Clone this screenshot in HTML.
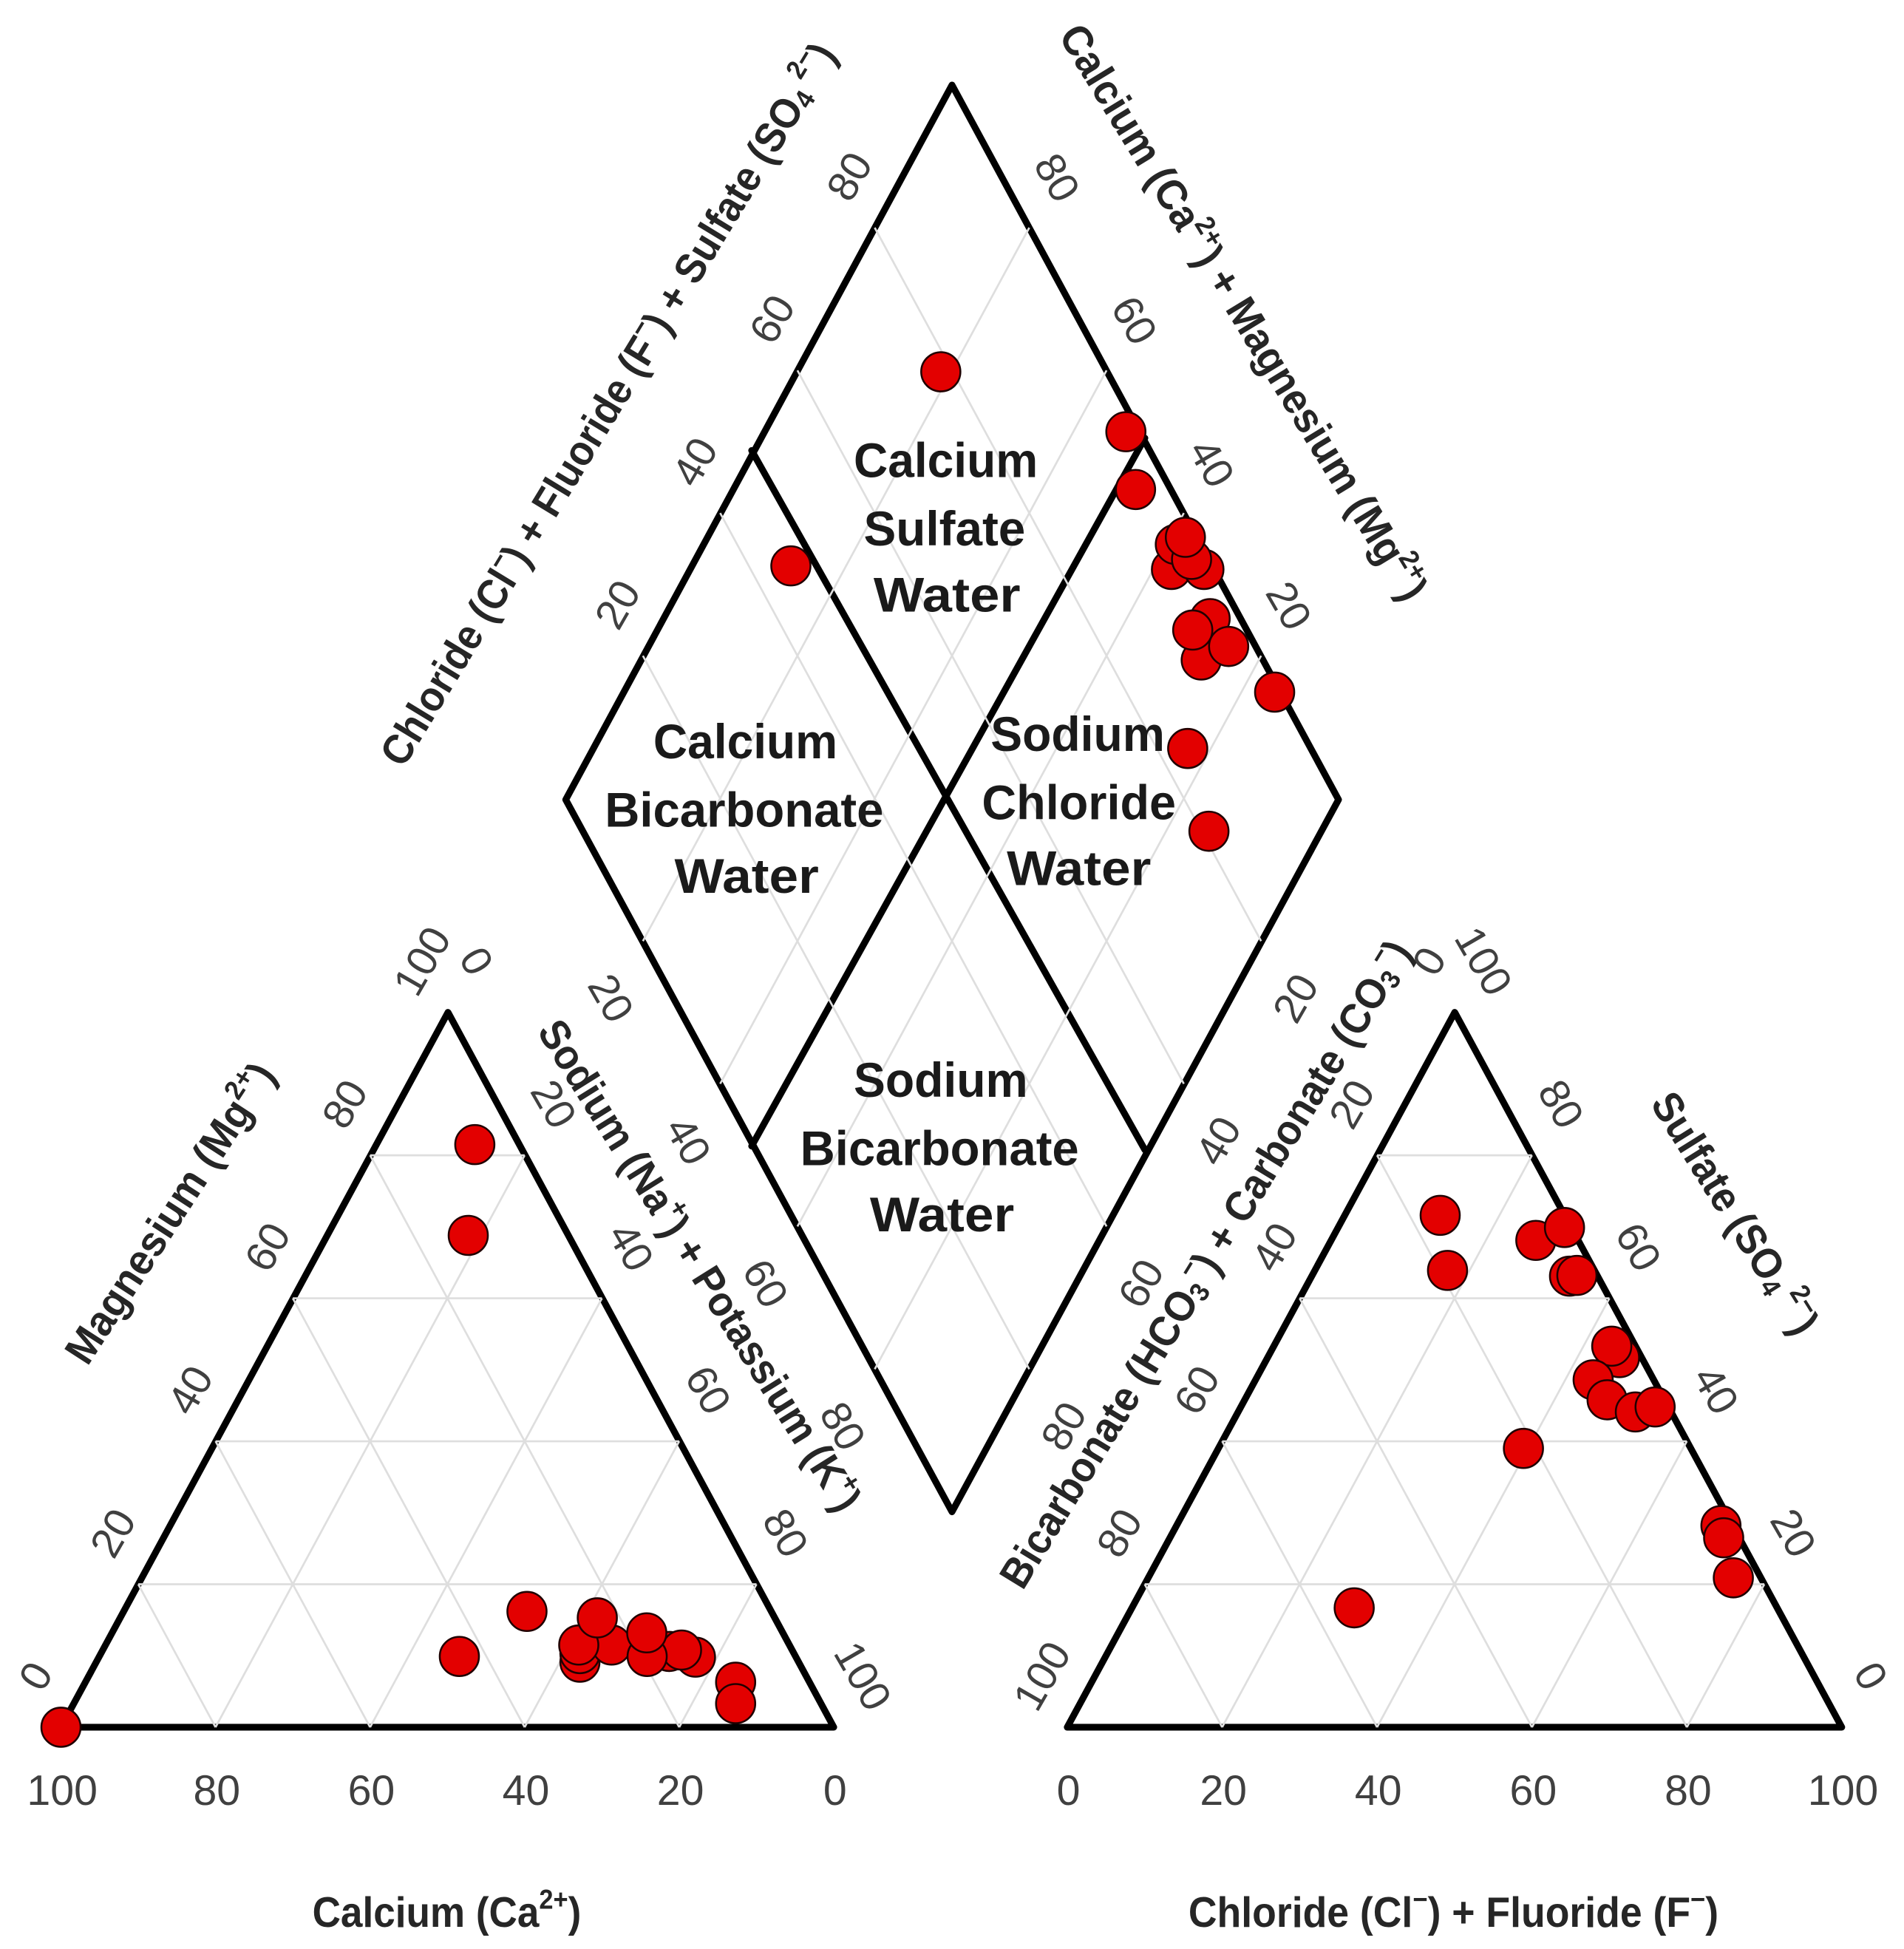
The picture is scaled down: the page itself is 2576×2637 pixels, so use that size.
<!DOCTYPE html>
<html lang="en">
<head>
<meta charset="utf-8">
<title>Piper Diagram</title>
<style>
html,body{margin:0;padding:0;background:#fff;}
svg{display:block;}
text{font-family:"Liberation Sans",sans-serif;}
.tick{font-size:34px;fill:#404040;text-anchor:middle;dominant-baseline:central;}
.title{font-size:34px;font-weight:bold;fill:#262626;text-anchor:middle;dominant-baseline:central;}
.region{font-size:39px;font-weight:bold;fill:#1a1a1a;text-anchor:middle;dominant-baseline:central;}
.edge{fill:none;stroke:#000;stroke-width:5.4;stroke-linejoin:round;stroke-linecap:round;}
.grid{stroke:#dedede;stroke-width:1.6;fill:none;}
.pt{fill:#e30000;stroke:#200000;stroke-width:1.5;}
</style>
</head>
<body>
<svg id="chart" xmlns="http://www.w3.org/2000/svg" width="2576" height="2637" viewBox="0 0 1530 1566.2">
<rect width="1530" height="1566.2" fill="#fff"/>
<polygon class="edge" points="49,1388 670,1388 360,813.5"/>
<polygon class="edge" points="857.6,1388 1480,1388 1169,813.5"/>
<polygon class="edge" points="454.6,642.6 765,68.3 1075.6,642.6 765,1214.9"/>
<line class="edge" x1="604" y1="362" x2="920" y2="924"/>
<line class="edge" x1="920" y1="352" x2="604" y2="921"/>
<g id="grids"></g>
<g id="ticks"></g>

<text class="title" transform="translate(137,975) rotate(-57)" textLength="280" lengthAdjust="spacingAndGlyphs">Magnesium (Mg<tspan dy="-11" font-size="22">2+</tspan><tspan dy="11">)</tspan></text>
<text class="title" transform="translate(562,1017) rotate(58)" textLength="458" lengthAdjust="spacingAndGlyphs">Sodium (Na<tspan dy="-11" font-size="22">+</tspan><tspan dy="11">) + Potassium (K</tspan><tspan dy="-11" font-size="22">+</tspan><tspan dy="11">)</tspan></text>
<text class="title" x="359" y="1537" textLength="216" lengthAdjust="spacingAndGlyphs">Calcium (Ca<tspan dy="-11" font-size="22">2+</tspan><tspan dy="11">)</tspan></text>
<text class="title" x="1168" y="1537" textLength="426" lengthAdjust="spacingAndGlyphs">Chloride (Cl<tspan dy="-11" font-size="22">−</tspan><tspan dy="11">) + Fluoride (F</tspan><tspan dy="-11" font-size="22">−</tspan><tspan dy="11">)</tspan></text>
<text class="title" transform="translate(1394,975) rotate(58)" textLength="222" lengthAdjust="spacingAndGlyphs">Sulfate (SO<tspan dy="7" font-size="22">4</tspan><tspan dy="-18" font-size="22"> 2−</tspan><tspan dy="11">)</tspan></text>
<text class="title" transform="translate(969,1016) rotate(-58.6)" textLength="602" lengthAdjust="spacingAndGlyphs">Bicarbonate (HCO<tspan dy="7" font-size="22">3</tspan><tspan dy="-18" font-size="22">−</tspan><tspan dy="11">) + Carbonate (CO</tspan><tspan dy="7" font-size="22">3</tspan><tspan dy="-18" font-size="22">−</tspan><tspan dy="11">)</tspan></text>
<text class="title" transform="translate(489,325) rotate(-58.7)" textLength="672" lengthAdjust="spacingAndGlyphs">Chloride (Cl<tspan dy="-11" font-size="22">−</tspan><tspan dy="11">) + Fluoride (F</tspan><tspan dy="-11" font-size="22">−</tspan><tspan dy="11">) + Sulfate (SO</tspan><tspan dy="7" font-size="22">4</tspan><tspan dy="-18" font-size="22"> 2−</tspan><tspan dy="11">)</tspan></text>
<text class="title" transform="translate(999,251) rotate(58.6)" textLength="535" lengthAdjust="spacingAndGlyphs">Calcium (Ca<tspan dy="-11" font-size="22">2+</tspan><tspan dy="11">) + Magnesium (Mg</tspan><tspan dy="-11" font-size="22">2+</tspan><tspan dy="11">)</tspan></text>

<g>
<text class="region" x="760" y="370" textLength="148" lengthAdjust="spacingAndGlyphs">Calcium</text>
<text class="region" x="759" y="425" textLength="130" lengthAdjust="spacingAndGlyphs">Sulfate</text>
<text class="region" x="761" y="478" textLength="118" lengthAdjust="spacingAndGlyphs">Water</text>
</g>
<g>
<text class="region" x="599" y="596" textLength="148" lengthAdjust="spacingAndGlyphs">Calcium</text>
<text class="region" x="598" y="651" textLength="224" lengthAdjust="spacingAndGlyphs">Bicarbonate</text>
<text class="region" x="600" y="704" textLength="116" lengthAdjust="spacingAndGlyphs">Water</text>
</g>
<g>
<text class="region" x="866" y="590" textLength="140" lengthAdjust="spacingAndGlyphs">Sodium</text>
<text class="region" x="867" y="645" textLength="156" lengthAdjust="spacingAndGlyphs">Chloride</text>
<text class="region" x="867" y="698" textLength="116" lengthAdjust="spacingAndGlyphs">Water</text>
</g>
<g>
<text class="region" x="756" y="868" textLength="140" lengthAdjust="spacingAndGlyphs">Sodium</text>
<text class="region" x="755" y="923" textLength="224" lengthAdjust="spacingAndGlyphs">Bicarbonate</text>
<text class="region" x="757" y="976" textLength="116" lengthAdjust="spacingAndGlyphs">Water</text>
</g>
<g id="points"></g>
</svg>
<script>
// Cation triangle data (percent)
var calciumValues =   [5.7, 12.9, 31.6, 43.5, 28.3, 27.7, 23, 27.25, 22.95, 13, 16, 14.3, 19.2, 17.6, 9.55, 11.05, 100];
var magnesiumValues = [81.5, 68.8, 16.2, 9.9, 9.1, 10.3, 11.5, 11.5, 15.3, 9.8, 10.6, 10.8, 9.9, 13.2, 6.3, 3.3, 0];
// Anion triangle data (percent)
var chlorideValues = [28.7, 39.4, 12.35, 17.15, 26.45, 29.25, 33.3, 34.2, 45.45, 43.65, 43.6, 46.8, 51.3, 53.5, 70.3, 71.5, 75.55];
var sulfateValues =  [16.7, 39.0, 71.6, 63.9, 68.1, 69.9, 63.1, 63.2, 51.7, 53.3, 48.6, 45.8, 44.1, 44.8, 28.2, 26.5, 20.9];
// Diamond data (percent)
var anionSumValues =  [78.45, 98.2, 95.4, 45.45, 84, 80.95, 99.2, 91.95, 96, 96.45, 92.95, 94.45, 98.65, 96.7, 97.75, 98.5];
var cationSumValues = [81.35, 53.2, 47.9, 87.15, 23, 14.45, 15.7, 27.45, 29.2, 24.85, 30.65, 37.65, 33.45, 38.9, 35.75, 38.1];
// Tick labels
var tickSteps = [0, 20, 40, 60, 80, 100];
var diamondSteps = [20, 40, 60, 80];

var NS = 'http://www.w3.org/2000/svg';
var gridG = document.getElementById('grids');
var tickG = document.getElementById('ticks');
var pointG = document.getElementById('points');

// Axis functions
function cationXY(ca, mg) {
  var f = 100 - ca - mg / 2;
  return [49 + 621 * f / 100, 1388 - 574.5 * mg / 100];
}
function anionXY(cl, so4) {
  var f = cl + so4 / 2;
  return [857.6 + 622.4 * f / 100, 1388 - 574.5 * so4 / 100];
}
function diamondXY(an, cat) {
  return [765 + 3.105 * (an - cat), 1214.9 - 5.733 * (an + cat)];
}

function gridLine(p, q) {
  var l = document.createElementNS(NS, 'line');
  l.setAttribute('class', 'grid');
  l.setAttribute('x1', p[0]);
  l.setAttribute('y1', p[1]);
  l.setAttribute('x2', q[0]);
  l.setAttribute('y2', q[1]);
  
  
  gridG.appendChild(l);
}
function tickLabel(value, x, y, rot) {
  var t = document.createElementNS(NS, 'text');
  t.setAttribute('class', 'tick');
  t.setAttribute('transform', 'translate(' + (x + 1) + ',' + (y + 1) + ') rotate(' + rot + ')');
  
  
  t.textContent = value;
  tickG.appendChild(t);
}
function marker(p, series) {
  var c = document.createElementNS(NS, 'circle');
  c.setAttribute('class', 'pt');
  c.setAttribute('cx', p[0]);
  c.setAttribute('cy', p[1]);
  c.setAttribute('r', 15.75);
  
  
  pointG.appendChild(c);
}

// Grid lines
diamondSteps.forEach(function (v) {
  gridLine(cationXY(100 - v, v), cationXY(0, v));
  gridLine(cationXY(v, 0), cationXY(v, 100 - v));
  gridLine(cationXY(100 - v, 0), cationXY(0, 100 - v));
  gridLine(anionXY(0, v), anionXY(100 - v, v));
  gridLine(anionXY(v, 0), anionXY(v, 100 - v));
  gridLine(anionXY(v, 0), anionXY(0, v));
  gridLine(diamondXY(v, 0), diamondXY(v, 100));
  gridLine(diamondXY(0, v), diamondXY(100, v));
});

// Tick labels
tickSteps.forEach(function (v) {
  var p;
  p = cationXY(v, 0);
  tickLabel(v, p[0], 1438, 0);
  p = cationXY(100 - v, v);
  tickLabel(v, p[0] - 21, p[1] - 42, -60);
  p = cationXY(0, 100 - v);
  tickLabel(v, p[0] + 22, p[1] - 42, 60);
  p = anionXY(v, 0);
  tickLabel(v, p[0], 1438, 0);
  p = anionXY(0, 100 - v);
  tickLabel(v, p[0] - 21, p[1] - 42, -60);
  p = anionXY(100 - v, v);
  tickLabel(v, p[0] + 22, p[1] - 42, 60);
});
diamondSteps.forEach(function (v) {
  var p;
  p = diamondXY(v, 100);
  tickLabel(v, p[0] - 21, p[1] - 42, -60);
  p = diamondXY(100, v);
  tickLabel(v, p[0] + 21, p[1] - 41, 60);
  p = diamondXY(0, 100 - v);
  tickLabel(v, p[0] - 27, p[1] + 45, 60);
  p = diamondXY(100 - v, 0);
  tickLabel(v, p[0] + 27, p[1] + 45, -60);
});

// Data marks
calciumValues.forEach(function (ca, i) {
  marker(cationXY(ca, magnesiumValues[i]), 'cation');
});
chlorideValues.forEach(function (cl, i) {
  marker(anionXY(cl, sulfateValues[i]), 'anion');
});
anionSumValues.forEach(function (an, i) {
  marker(diamondXY(an, cationSumValues[i]), 'diamond');
});
</script>
</body>
</html>
